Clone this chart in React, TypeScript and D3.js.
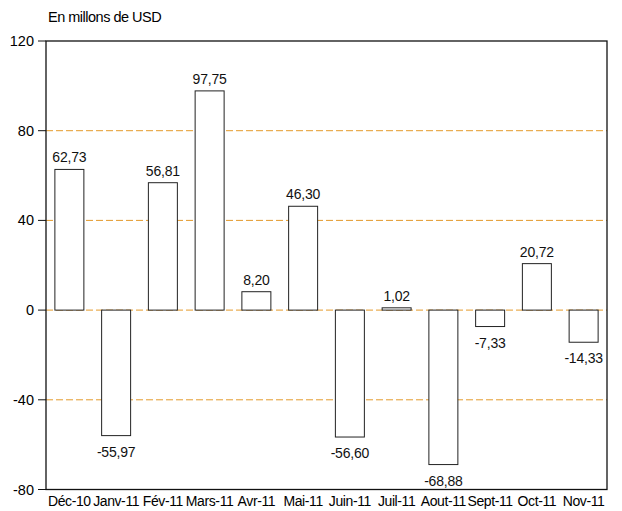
import React from "react";
import * as d3 from "d3";

const categories = ["Déc-10", "Janv-11", "Fév-11", "Mars-11", "Avr-11", "Mai-11", "Juin-11", "Juil-11", "Aout-11", "Sept-11", "Oct-11", "Nov-11"];
const values = [62.73, -55.97, 56.81, 97.75, 8.2, 46.3, -56.6, 1.02, -68.88, -7.33, 20.72, -14.33];
const yTicks = [-80, -40, 0, 40, 80, 120];
const gridValues = [-40, 0, 40, 80];
const title = "En millons de USD";

const W = 622, H = 511;
const left = 46, right = 607, top = 41, bottom = 489.5;
const font = "Arial, 'Liberation Sans', sans-serif";

export default function App() {
  const x = d3.scaleBand<string>().domain(categories).range([left, right]).paddingInner(0.38).paddingOuter(0.19);
  const y = d3.scaleLinear().domain([-80, 120]).range([bottom, top]);
  const fmt = (v: number) => v.toFixed(2).replace(".", ",");
  return (
    <svg width={W} height={H} style={{ position: "absolute", left: 0, top: 0, background: "#fff" }}>
      <text x={48} y={22} fontFamily={font} fontSize={14.5} letterSpacing={-0.5} fill="#000">{title}</text>
      {gridValues.map((g) => (
        <line key={g} x1={left} x2={right} y1={y(g)} y2={y(g)} stroke="#E49A2B" strokeWidth={1} strokeDasharray="7,3" />
      ))}
      {values.map((v, i) => {
        const bx = x(categories[i])!;
        const y0 = y(Math.max(v, 0));
        const y1 = y(Math.min(v, 0));
        return (
          <g key={i}>
            <rect x={bx} y={y0} width={x.bandwidth()} height={Math.max(y1 - y0, 0.5)} fill="#fff" stroke="#222" strokeWidth={1} />
            <text
              x={bx + x.bandwidth() / 2}
              y={v >= 0 ? y0 - 7 : y1 + 21}
              textAnchor="middle"
              fontFamily={font}
              fontSize={14}
              letterSpacing={-0.2}
              fill="#111"
            >
              {fmt(v)}
            </text>
          </g>
        );
      })}
      <rect x={left} y={top} width={right - left} height={bottom - top} fill="none" stroke="#111" strokeWidth={1.3} />
      {yTicks.map((t) => (
        <g key={t}>
          <line x1={left - 8} x2={left} y1={y(t)} y2={y(t)} stroke="#111" strokeWidth={1} />
          <text x={34} y={y(t) + 5} textAnchor="end" fontFamily={font} fontSize={14.5} fill="#000">{t}</text>
        </g>
      ))}
      {categories.map((c) => (
        <text key={c} x={x(c)! + x.bandwidth() / 2} y={506} textAnchor="middle" fontFamily={font} fontSize={14} letterSpacing={-0.4} fill="#000">{c}</text>
      ))}
    </svg>
  );
}
